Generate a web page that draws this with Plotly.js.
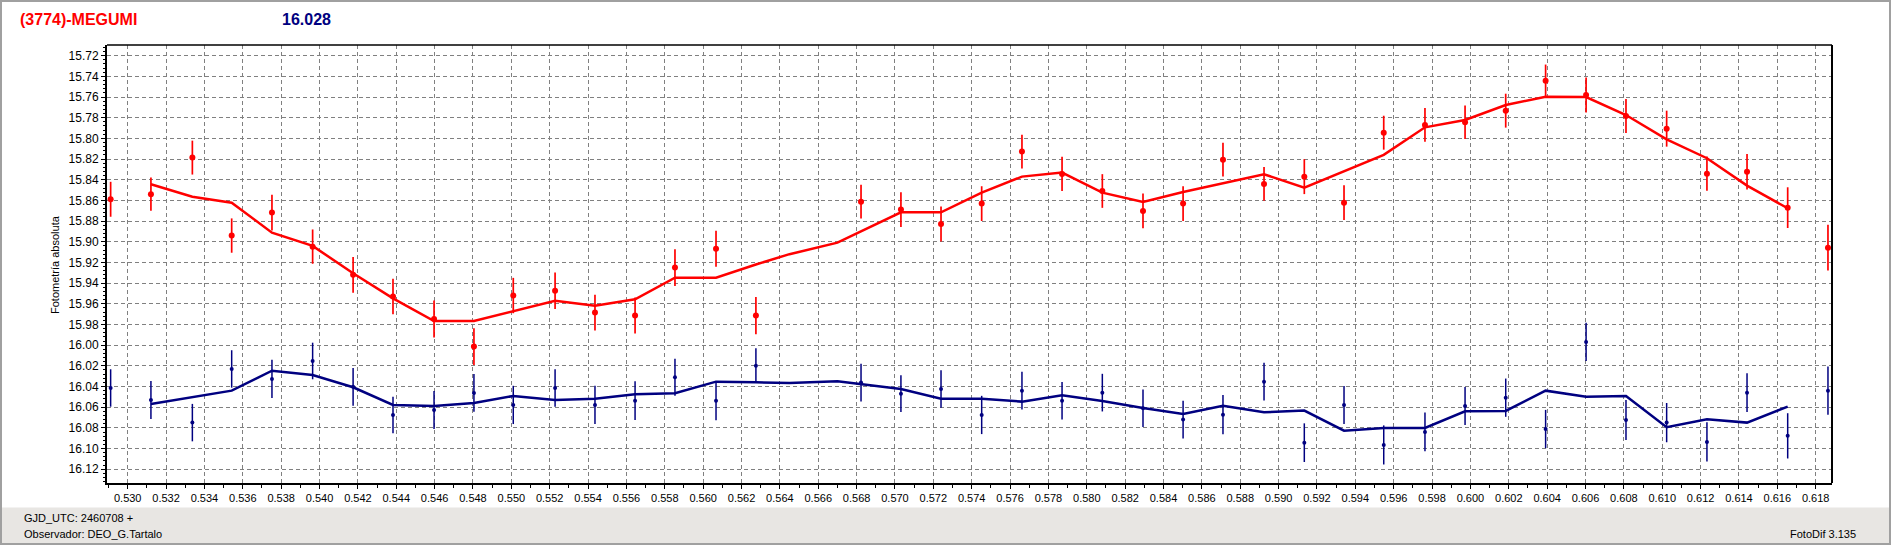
<!DOCTYPE html>
<html><head><meta charset="utf-8">
<script src="https://cdn.plot.ly/plotly-3.0.1.min.js"></script>
<style>html,body{margin:0;padding:0;background:#fff;overflow:hidden}#chart{width:1893px;height:546px;}</style>
</head><body><div id="chart"></div>
<script>
// ---- data (GJD_UTC - 2460708) ----
const obsTime = [0.52911,0.53121,0.53337,0.53542,0.53752,0.53964,0.54175,0.54383,0.54597,0.54805,
  0.55010,0.55228,0.55436,0.55645,0.55853,0.56067,0.56275,0.56823,0.57031,0.57240,
  0.57452,0.57662,0.57871,0.58081,0.58293,0.58502,0.58710,0.58924,0.59134,0.59341,
  0.59548,0.59763,0.59972,0.60184,0.60392,0.60603,0.60811,0.61023,0.61233,0.61442,
  0.61654,0.61864];
const asteroidMag = [15.8589,15.854,15.8186,15.894,15.8718,15.9047,15.932,15.953,15.9747,16.0014,
  15.952,15.9473,15.9685,15.9714,15.925,15.9067,15.9714,15.8612,15.8689,15.8828,
  15.8631,15.8128,15.8344,15.8509,15.8702,15.8631,15.8206,15.8441,15.837,15.8622,
  15.7945,15.787,15.7844,15.7732,15.7442,15.758,15.7783,15.7906,15.8341,15.8322,
  15.867,15.9057];
const asteroidErr = [0.0169,0.0161,0.0164,0.0166,0.0172,0.0166,0.0172,0.0172,0.018,0.0177,
  0.0171,0.0176,0.0172,0.0174,0.0177,0.0174,0.018,0.0164,0.0169,0.0169,
  0.0168,0.0164,0.0166,0.0163,0.0168,0.0168,0.0163,0.0163,0.0169,0.0168,
  0.0164,0.0163,0.0163,0.0164,0.0156,0.0169,0.0164,0.0174,0.0166,0.0172,
  0.0197,0.0221];
const compMag = [16.0414,16.053,16.0749,16.023,16.0327,16.0153,16.0403,16.0675,16.0627,16.0462,
  16.0578,16.0414,16.0578,16.0537,16.0311,16.0537,16.0198,16.0362,16.0469,16.0424,
  16.0675,16.044,16.0537,16.0459,16.061,16.072,16.0672,16.0353,16.0943,16.0578,
  16.0965,16.0839,16.0588,16.0508,16.0811,15.9969,16.0723,16.0749,16.0936,16.0459,
  16.0877,16.044];
const compErr = [0.0181,0.0184,0.0181,0.0181,0.0185,0.0177,0.0182,0.0177,0.0184,0.0182,
  0.0185,0.0182,0.0185,0.0187,0.0179,0.0189,0.0168,0.0182,0.0177,0.0182,
  0.0185,0.0182,0.0182,0.0182,0.0182,0.0182,0.0189,0.0182,0.0187,0.0184,
  0.0189,0.0187,0.0184,0.0185,0.0185,0.0185,0.0193,0.019,0.019,0.0187,
  0.0219,0.0234];
const smoothTime = [0.53121,0.53337,0.53542,0.53752,0.53964,0.54175,0.54383,0.54597,0.54805,0.55010,
  0.55228,0.55436,0.55645,0.55853,0.56067,0.56275,0.5645,0.5670,0.57031,0.57240,
  0.57452,0.57662,0.57871,0.58081,0.58293,0.58502,0.58710,0.58924,0.59134,0.59341,
  0.59548,0.59763,0.59972,0.60184,0.60392,0.60603,0.60811,0.61023,0.61233,0.61442,
  0.61654];
const asteroidSmooth = [15.8444,15.8564,15.8622,15.8912,15.904,15.9305,15.9547,15.9766,15.9766,15.9672,
  15.957,15.9618,15.9556,15.9347,15.9347,15.922,15.912,15.9008,15.8715,15.8715,
  15.8525,15.837,15.8331,15.8525,15.8615,15.8518,15.8434,15.8347,15.8477,15.8315,
  15.816,15.7893,15.7822,15.7677,15.7597,15.760,15.7774,15.8009,15.8192,15.8457,
  15.8676];
const compSmooth = [16.0568,16.0504,16.044,16.0247,16.0288,16.0407,16.0578,16.0588,16.0559,16.0491,
  16.053,16.0517,16.0475,16.0465,16.0353,16.0359,16.0366,16.035,16.0424,16.0517,
  16.0517,16.0546,16.0485,16.054,16.0607,16.0665,16.0585,16.0649,16.0633,16.0827,
  16.0801,16.0801,16.0639,16.0636,16.044,16.0498,16.0491,16.0794,16.0716,16.0749,
  16.0594];
const titleName = "(3774)-MEGUMI";
const titleMag = "16.028";
const yTitle = "Fotometría absoluta";
const footLines = ["GJD_UTC: 2460708 +", "Observador: DEO_G.Tartalo"];
const footRight = "FotoDif 3.135";

// ---- layout geometry ----
const W = 1893, H = 546, L = 107, R = 61, T = 45, B = 63;
const PW = W - L - R, PH = H - T - B;
const px = v => (v - L) / PW;
const py = v => (H - B - v) / PH;

const RED = "#ff0000", NAVY = "#000080";
const font = "Liberation Sans, Arial, sans-serif";

const traces = [
  {x: smoothTime, y: asteroidSmooth, mode: "lines", line: {color: RED, width: 2.5}, hoverinfo: "skip"},
  {x: smoothTime, y: compSmooth, mode: "lines", line: {color: NAVY, width: 2.5}, hoverinfo: "skip"},
  {x: obsTime, y: asteroidMag, mode: "markers", marker: {color: RED, size: 6, symbol: "circle"},
   error_y: {type: "data", array: asteroidErr, visible: true, width: 0, thickness: 1.7, color: RED}},
  {x: obsTime, y: compMag, mode: "markers", marker: {color: NAVY, size: 4, symbol: "circle"},
   error_y: {type: "data", array: compErr, visible: true, width: 0, thickness: 1.5, color: NAVY}}
];

const layout = {
  width: W, height: H,
  margin: {l: L, r: R, t: T, b: B, pad: 0},
  paper_bgcolor: "#ffffff", plot_bgcolor: "#ffffff",
  showlegend: false,
  font: {family: font, size: 11, color: "#000"},
  xaxis: {
    range: [0.52892, 0.61885], tick0: 0.530, dtick: 0.002, tickformat: ".3f",
    showgrid: true, gridcolor: "#808080", gridwidth: 1, griddash: "4px,3px",
    zeroline: false, showline: true, linecolor: "#000", linewidth: 2,
    ticks: "outside", ticklen: 4, tickcolor: "#000", tickwidth: 1,
    tickfont: {family: font, size: 11, color: "#000"},
    minor: {dtick: 0.001, ticks: "outside", ticklen: 3, tickcolor: "#000", showgrid: false}
  },
  yaxis: {
    range: [16.1333, 15.7097], tick0: 15.72, dtick: 0.02, tickformat: ".2f",
    showgrid: true, gridcolor: "#808080", gridwidth: 1, griddash: "4px,3px",
    zeroline: false, showline: true, linecolor: "#000", linewidth: 2,
    ticks: "outside", ticklen: 4, tickcolor: "#000", tickwidth: 1,
    tickfont: {family: font, size: 12, color: "#000"},
    minor: {dtick: 0.004, ticks: "outside", ticklen: 2, tickcolor: "#000", showgrid: false}
  },
  shapes: [
    {type: "rect", xref: "paper", yref: "paper", x0: px(1), x1: px(1891), y0: py(507.5), y1: py(544),
     fillcolor: "#e8e6e3", line: {width: 0}, layer: "below"},
    {type: "rect", xref: "paper", yref: "paper", x0: px(1), x1: px(1890), y0: py(544), y1: py(1),
     fillcolor: "rgba(0,0,0,0)", line: {color: "#a0a0a0", width: 2}, layer: "above"},
    {type: "line", xref: "paper", yref: "paper", x0: 0, x1: 1, y0: 1, y1: 1, line: {color: "#000", width: 1.5}},
    {type: "line", xref: "paper", yref: "paper", x0: 1, x1: 1, y0: 0, y1: 1, line: {color: "#000", width: 2}}
  ],
  annotations: [
    {xref: "paper", yref: "paper", x: px(18), y: py(20), xanchor: "left", yanchor: "middle", showarrow: false,
     text: "<b>" + titleName + "</b>", font: {family: font, size: 16, color: RED}},
    {xref: "paper", yref: "paper", x: px(280), y: py(20), xanchor: "left", yanchor: "middle", showarrow: false,
     text: "<b>" + titleMag + "</b>", font: {family: font, size: 16, color: NAVY}},
    {xref: "paper", yref: "paper", x: px(55), y: py(265), xanchor: "center", yanchor: "middle", showarrow: false,
     textangle: -90, text: yTitle, font: {family: font, size: 11, color: "#000"}},
    {xref: "paper", yref: "paper", x: px(22), y: py(518), xanchor: "left", yanchor: "middle", showarrow: false,
     text: footLines[0], font: {family: font, size: 11, color: "#000"}},
    {xref: "paper", yref: "paper", x: px(22), y: py(534), xanchor: "left", yanchor: "middle", showarrow: false,
     text: footLines[1], font: {family: font, size: 11, color: "#000"}},
    {xref: "paper", yref: "paper", x: px(1858), y: py(534), xanchor: "right", yanchor: "middle", showarrow: false,
     text: footRight, font: {family: font, size: 11, color: "#000"}}
  ]
};

Plotly.newPlot("chart", traces, layout, {staticPlot: true, displayModeBar: false});
</script>
</body></html>
